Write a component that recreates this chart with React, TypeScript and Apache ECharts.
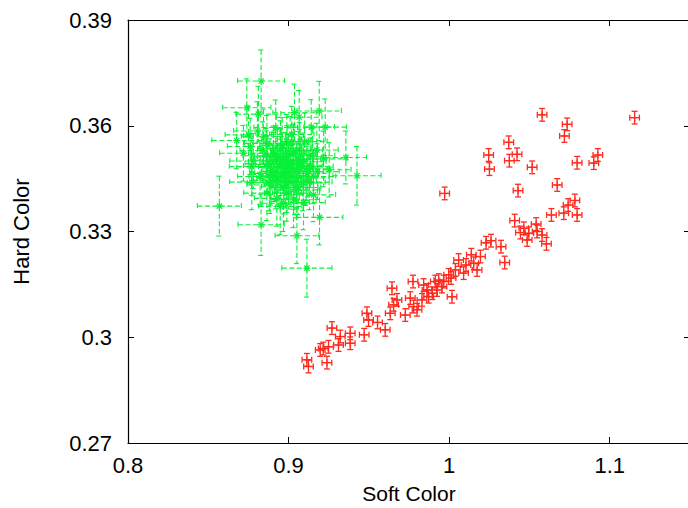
import React, { useEffect, useRef } from "react";
import * as echarts from "echarts";

const xTicks = [0.8, 0.9, 1.0, 1.1];
const yTicks = [0.27, 0.3, 0.33, 0.36, 0.39];

// Green source (soft, hard, soft error, hard error)
const greenX = [
  0.8829, 0.874, 0.8812, 0.9037, 0.9066, 0.9191, 0.9141, 0.9228, 0.9357, 0.9426,
  0.9253, 0.8677, 0.8719, 0.8771, 0.8771, 0.8569, 0.8829, 0.9052, 0.9114, 0.9193,
  0.9093, 0.8968, 0.8927, 0.9155, 0.8885, 0.9031, 0.8806, 0.8865, 0.8989, 0.8948,
  0.9031, 0.9093, 0.9176, 0.9218, 0.8927, 0.901, 0.9114, 0.8823, 0.8885, 0.8865,
  0.8989, 0.8968, 0.9052, 0.875, 0.8844, 0.8761, 0.8906, 0.8989, 0.9072, 0.9135,
  0.9155, 0.9031, 0.8948, 0.8906, 0.895, 0.9, 0.905, 0.898, 0.893, 0.907,
  0.886, 0.902, 0.892, 0.91, 0.897, 0.904, 0.889, 0.913, 0.918, 0.884,
  0.878, 0.915, 0.899, 0.906, 0.896, 0.903, 0.891, 0.909, 0.887, 0.901,
  0.894, 0.9, 0.908, 0.89, 0.896, 0.905, 0.899, 0.912, 0.893, 0.902,
  0.897, 0.907, 0.888, 0.903, 0.895, 0.911, 0.9, 0.892, 0.906, 0.898,
];
const greenY = [
  0.3727, 0.3651, 0.3633, 0.3637, 0.3624, 0.3642, 0.3596, 0.3596, 0.351, 0.3458,
  0.3475, 0.3558, 0.3522, 0.3484, 0.344, 0.3372, 0.3319, 0.3288, 0.3196, 0.334,
  0.3382, 0.338, 0.3394, 0.3404, 0.3432, 0.3441, 0.3585, 0.355, 0.3555, 0.3512,
  0.3522, 0.3498, 0.3531, 0.3506, 0.3465, 0.3456, 0.3465, 0.3456, 0.3484, 0.3409,
  0.3409, 0.3427, 0.3418, 0.3574, 0.3569, 0.3541, 0.3522, 0.3484, 0.3484, 0.3484,
  0.3456, 0.339, 0.3371, 0.3503, 0.3535, 0.35, 0.347, 0.3445, 0.349, 0.353,
  0.3515, 0.3575, 0.3595, 0.3555, 0.347, 0.3425, 0.3455, 0.344, 0.347, 0.353,
  0.35, 0.3515, 0.352, 0.3505, 0.3545, 0.3478, 0.3462, 0.3438, 0.3492, 0.3548,
  0.3452, 0.3442, 0.3488, 0.3468, 0.3498, 0.3458, 0.3432, 0.3478, 0.3512, 0.3492,
  0.3458, 0.3512, 0.3438, 0.3528, 0.3482, 0.3452, 0.3472, 0.3445, 0.3425, 0.3502,
];
const greenXErr = [
  0.0146, 0.015, 0.014, 0.0135, 0.0142, 0.0138, 0.0145, 0.0132, 0.0128, 0.015,
  0.0136, 0.0155, 0.0148, 0.014, 0.0138, 0.0137, 0.0144, 0.0136, 0.0156, 0.0145,
  0.0135, 0.0132, 0.014, 0.0138, 0.0145, 0.0142, 0.0148, 0.0139, 0.0135, 0.0143,
  0.0137, 0.0141, 0.0133, 0.0146, 0.0138, 0.0135, 0.0142, 0.014, 0.0137, 0.0144,
  0.0139, 0.0136, 0.0141, 0.0145, 0.0138, 0.0142, 0.0136, 0.014, 0.0137, 0.0143,
  0.0139, 0.0141, 0.0135, 0.0138, 0.014, 0.0136, 0.0142, 0.0139, 0.0137, 0.0141,
  0.0144, 0.0138, 0.0136, 0.014, 0.0139, 0.0143, 0.0137, 0.0141, 0.0135, 0.0142,
  0.0146, 0.0138, 0.0137, 0.014, 0.0139, 0.0136, 0.0143, 0.0138, 0.0141, 0.0137,
  0.0138, 0.0141, 0.0136, 0.0143, 0.0139, 0.0137, 0.014, 0.0138, 0.0142, 0.0136,
  0.0141, 0.0139, 0.0137, 0.014, 0.0138, 0.0143, 0.0136, 0.0139, 0.0141, 0.0137,
];
const greenYErr = [
  0.0088, 0.0082, 0.0079, 0.0081, 0.0076, 0.0084, 0.0078, 0.008, 0.0075, 0.0083,
  0.0077, 0.008, 0.0079, 0.0081, 0.0078, 0.0085, 0.0087, 0.0079, 0.0082, 0.0078,
  0.0077, 0.008, 0.0079, 0.0076, 0.0081, 0.0078, 0.0083, 0.0079, 0.0077, 0.008,
  0.0078, 0.0081, 0.0076, 0.0079, 0.0078, 0.008, 0.0077, 0.0081, 0.0079, 0.0078,
  0.008, 0.0077, 0.0079, 0.0081, 0.0078, 0.008, 0.0077, 0.0079, 0.0078, 0.0081,
  0.0077, 0.0079, 0.008, 0.0078, 0.0079, 0.0077, 0.0081, 0.0078, 0.008, 0.0079,
  0.0077, 0.008, 0.0078, 0.0081, 0.0079, 0.0077, 0.008, 0.0078, 0.0079, 0.0081,
  0.0078, 0.0077, 0.008, 0.0079, 0.0078, 0.0081, 0.0077, 0.0079, 0.008, 0.0078,
  0.0079, 0.0078, 0.008, 0.0077, 0.0081, 0.0079, 0.0078, 0.008, 0.0077, 0.0079,
  0.0081, 0.0078, 0.0079, 0.0077, 0.008, 0.0078, 0.0079, 0.0081, 0.0077, 0.0079,
];

// Red source
const redX = [
  1.0579, 1.1155, 1.0735, 1.0718, 1.0371, 1.0246, 1.0423, 1.0375, 1.0926, 1.0901,
  1.0797, 1.0517, 1.0251, 0.9972, 1.0429, 1.0673, 1.0783, 1.0741, 1.0797, 1.0714,
  1.0637, 1.0408, 1.0465, 1.0542, 1.0496, 1.0548, 1.0579, 1.0486, 1.0606, 1.0444,
  1.023, 1.0261, 1.0323, 1.0346, 1.0138, 1.0195, 1.0153, 1.0174, 1.0059, 1.009,
  1.0039, 0.9997, 0.9966, 0.9914, 1.0018, 0.9955, 0.9924, 0.9862, 0.9872, 0.9775,
  0.9841, 0.9831, 0.9758, 0.9779, 0.98, 0.9727, 0.9644, 0.9675, 0.9654, 0.9633,
  0.9488, 0.9498, 0.9554, 0.9602, 0.9471, 0.9384, 0.9384, 0.9322, 0.927, 0.9311,
  0.9249, 0.9197, 0.9114, 0.9124, 0.9239, 0.9216, 1.0012, 0.9895, 0.9935, 1.0105,
];
const redY = [
  0.3631, 0.3623, 0.3604, 0.3571, 0.3553, 0.3517, 0.3519, 0.3501, 0.3517, 0.3494,
  0.3495, 0.3482, 0.3477, 0.3408, 0.3416, 0.3432, 0.3388, 0.3375, 0.3347, 0.3352,
  0.3347, 0.3331, 0.3309, 0.3321, 0.3295, 0.33, 0.329, 0.3276, 0.3265, 0.3297,
  0.3268, 0.3274, 0.3257, 0.3212, 0.3234, 0.3229, 0.321, 0.3191, 0.3219, 0.3182,
  0.3191, 0.3177, 0.3158, 0.3158, 0.3115, 0.3144, 0.3134, 0.3134, 0.3115, 0.3158,
  0.3148, 0.3106, 0.3111, 0.3087, 0.3078, 0.3063, 0.3139, 0.3106, 0.3092, 0.3068,
  0.3068, 0.3049, 0.3042, 0.3021, 0.3007, 0.3011, 0.2983, 0.3002, 0.3026, 0.2978,
  0.2973, 0.2964, 0.2936, 0.2917, 0.2928, 0.2968, 0.3168, 0.3125, 0.3162, 0.3205,
];
const redXErr = redX.map(() => 0.003);
const redYErr = redY.map(() => 0.0018);

const GREEN = "#08f038";
const RED = "#ff2a1e";
const FONT = "'Liberation Sans', Arial, Helvetica, sans-serif";

function makeRender(color: string, dashed: boolean, star: boolean) {
  return (params: any, api: any) => {
    const x = api.value(0);
    const y = api.value(1);
    const ex = api.value(2);
    const ey = api.value(3);
    const c = api.coord([x, y]);
    const l = api.coord([x - ex, y]);
    const r = api.coord([x + ex, y]);
    const t = api.coord([x, y + ey]);
    const b = api.coord([x, y - ey]);
    const cap = 3;
    const style: any = { stroke: color, lineWidth: dashed ? 1.1 : 1.3, fill: null };
    if (dashed) style.lineDash = [5, 2.5];
    const ln = (x1: number, y1: number, x2: number, y2: number, st: any) => ({
      type: "line",
      shape: { x1, y1, x2, y2 },
      style: st,
      silent: true,
    });
    const children: any[] = [
      ln(l[0], l[1], r[0], r[1], style),
      ln(t[0], t[1], b[0], b[1], style),
      ln(l[0], l[1] - cap, l[0], l[1] + cap, style),
      ln(r[0], r[1] - cap, r[0], r[1] + cap, style),
      ln(t[0] - cap, t[1], t[0] + cap, t[1], style),
      ln(b[0] - cap, b[1], b[0] + cap, b[1], style),
    ];
    const solid = { stroke: color, lineWidth: 1.2, fill: null };
    const s = 3.5;
    if (star) {
      children.push(ln(c[0] - s, c[1], c[0] + s, c[1], solid));
      children.push(ln(c[0], c[1] - s, c[0], c[1] + s, solid));
      children.push(ln(c[0] - s * 0.75, c[1] - s * 0.75, c[0] + s * 0.75, c[1] + s * 0.75, solid));
      children.push(ln(c[0] - s * 0.75, c[1] + s * 0.75, c[0] + s * 0.75, c[1] - s * 0.75, solid));
    } else {
      children.push(ln(c[0] - s, c[1], c[0] + s, c[1], solid));
      children.push(ln(c[0], c[1] - s, c[0], c[1] + s, solid));
    }
    return { type: "group", children };
  };
}

export default function App() {
  const ref = useRef<HTMLDivElement>(null);
  useEffect(() => {
    document.body.style.margin = "0";
    document.body.style.overflow = "hidden";
    const chart = echarts.init(ref.current!, null, { renderer: "svg" });
    const greenData = greenX.map((v, i) => [v, greenY[i], greenXErr[i], greenYErr[i]]);
    const redData = redX.map((v, i) => [v, redY[i], redXErr[i], redYErr[i]]);
    const axisLine = { onZero: false, lineStyle: { color: "#000", width: 1.2 } };
    const axisTick = { inside: true, length: 6, lineStyle: { color: "#000", width: 1 } };
    const label = { color: "#000", fontSize: 22, fontFamily: FONT };
    chart.setOption({
      animation: false,
      backgroundColor: "#fff",
      grid: {
        left: 128,
        right: -2,
        top: 20,
        bottom: 65,
        show: false,
        containLabel: false,
        outerBoundsMode: "none",
      },
      xAxis: [
        {
          type: "value",
          min: xTicks[0],
          max: 1.15,
          interval: 0.1,
          position: "bottom",
          axisLine,
          axisTick,
          axisLabel: { ...label, margin: 11, showMaxLabel: false },
          splitLine: { show: false },
          name: "Soft Color",
          nameLocation: "middle",
          nameGap: 40,
          nameTextStyle: { ...label, fontSize: 21 },
        },
        {
          type: "value",
          min: xTicks[0],
          max: 1.15,
          interval: 0.1,
          position: "top",
          axisLine,
          axisTick,
          axisLabel: { show: false },
          splitLine: { show: false },
        },
      ],
      yAxis: [
        {
          type: "value",
          min: yTicks[0],
          max: yTicks[yTicks.length - 1],
          interval: 0.03,
          position: "left",
          axisLine,
          axisTick,
          axisLabel: { ...label, margin: 16 },
          splitLine: { show: false },
          name: "Hard Color",
          nameLocation: "middle",
          nameGap: 96,
          nameTextStyle: { ...label },
        },
        {
          type: "value",
          min: yTicks[0],
          max: yTicks[yTicks.length - 1],
          interval: 0.03,
          position: "right",
          axisLine,
          axisTick,
          axisLabel: { show: false },
          splitLine: { show: false },
        },
      ],
      series: [
        {
          type: "custom",
          name: "green",
          xAxisIndex: 0,
          yAxisIndex: 0,
          renderItem: makeRender(GREEN, true, true),
          data: greenData,
          encode: { x: 0, y: 1 },
          silent: true,
        },
        {
          type: "custom",
          name: "red",
          xAxisIndex: 0,
          yAxisIndex: 0,
          renderItem: makeRender(RED, false, false),
          data: redData,
          encode: { x: 0, y: 1 },
          silent: true,
        },
      ],
    });
    return () => chart.dispose();
  }, []);
  return <div ref={ref} style={{ width: 688, height: 508 }} />;
}
